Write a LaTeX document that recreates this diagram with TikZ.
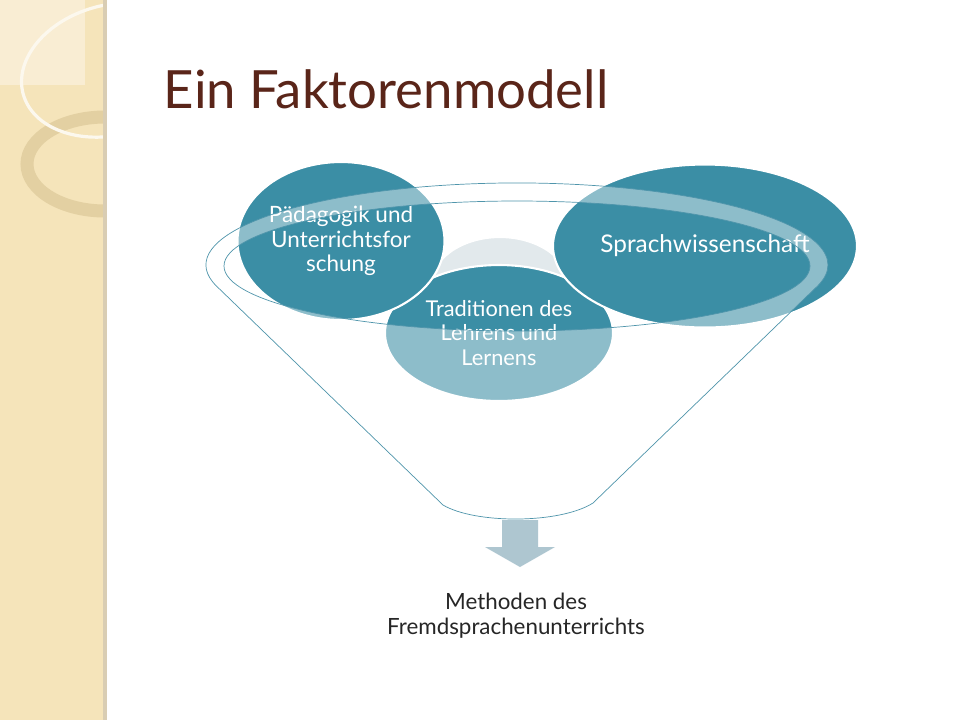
\documentclass[tikz,border=0pt]{standalone}
\usepackage{fontspec}
\setmainfont{Lato}
\usetikzlibrary{shapes.geometric}

\definecolor{tealdark}{HTML}{3B8EA5}
\definecolor{tealline}{HTML}{4F95AB}
\definecolor{grayback}{HTML}{E2E9EC}
\definecolor{arrowblue}{HTML}{AEC6D0}
\definecolor{titlebrown}{HTML}{5A2519}
\definecolor{sand}{HTML}{F5E4BA}
\definecolor{sandlight}{HTML}{F9EDD3}
\definecolor{sandring}{HTML}{E3D0A2}
\definecolor{sandedge}{HTML}{D9CDB3}

\tikzset{
  bubble/.style={ellipse, fill=tealdark, draw=white, line width=1.5pt, inner sep=0pt},
  bubbletext/.style={text=white, align=center, font=\fontsize{16}{17.4}\selectfont},
}

\begin{document}
\begin{tikzpicture}[x=0.25mm,y=-0.25mm]
\useasboundingbox (0,0) rectangle (960,720);
\fill[white] (0,0) rectangle (960,720);

% side stripe
\fill[sand] (0,0) rectangle (105,720);
\begin{scope}
\clip (0,0) rectangle (105,720);
\fill[sandlight] (0,0) rectangle (85,85);
\draw[sandring, line width=3.25mm] (105,164) ellipse[x radius=78, y radius=47];
\draw[white!75!sand, line width=0.8mm, rotate around={15:(112,70)}] (112,70) ellipse[x radius=92, y radius=65];
\end{scope}
\fill[sandedge] (103,0) rectangle (107,720);

% title
\node[anchor=base west, font=\fontsize{37.5}{45}\selectfont, text=titlebrown] (title) at (159,108) {Ein Faktorenmodell};

% circles
\node[bubble, fill=grayback, minimum width=35mm, minimum height=25mm] (back) at (500,287) {};
\node[bubble, minimum width=57mm, minimum height=34mm] (trad) at (499,333) {};
\node[bubble, minimum width=51.75mm, minimum height=39.5mm] (paed) at (341,241) {};
\node[bubble, minimum width=76mm, minimum height=40.75mm] (sprach) at (705,246) {};

\node[bubbletext, font=\fontsize{15.5}{17.4}\selectfont] (tradtext) at (trad) {Traditionen des\\Lehrens und\\Lernens};
\node[bubbletext] (paedtext) at (paed) {Pädagogik und\\Unterrichtsfor\\schung};
\node[bubbletext, font=\fontsize{17.3}{20}\selectfont] (sprachtext) at (sprach) {Sprachwissenschaft};

% funnel
\path[draw=tealline, line width=0.5pt, fill=white, fill opacity=.42, even odd rule]
  (216.3,285.9) arc[start angle=165.2, end angle=374.8, x radius=311, y radius=82]
  -- (593,503) .. controls (560,524) and (475,524) .. (443,505) -- cycle
  (517,266) ellipse[x radius=293, y radius=65];

\fill[arrowblue] (502,520) -- (538,520) -- (538,547) -- (555,547) -- (520,567)
  -- (485,547) -- (502,547) -- cycle;

\node[align=center, font=\fontsize{15.9}{17.8}\selectfont, text=black!85] (result) at (516,616) {Methoden des\\Fremdsprachenunterrichts};
\end{tikzpicture}
\end{document}
